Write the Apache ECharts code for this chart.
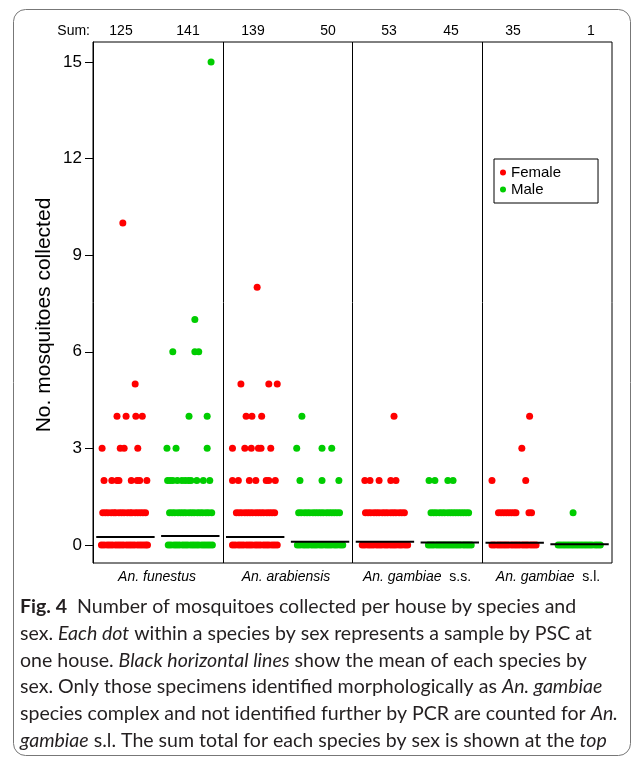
<!DOCTYPE html>
<html><head><meta charset="utf-8">
<script src="https://cdn.jsdelivr.net/npm/echarts@6/dist/echarts.min.js"></script>
<style>html,body{margin:0;padding:0;background:#fff}#c{width:632px;height:757px}</style>
</head><body><div id="c"></div>
<script>
// ---- data ----
const speciesNames = ['An. funestus', 'An. arabiensis', 'An. gambiae', 'An. gambiae'];
const speciesSuffix = ['', '', 's.s.', 's.l.'];
const groupSums = [125, 141, 139, 50, 53, 45, 35, 1];
const groupMeans = [0.25, 0.28, 0.25, 0.10, 0.10, 0.08, 0.07, 0.02];
const yTicks = [0, 3, 6, 9, 12, 15];
// each row: [mosquitoes collected, jitter offsets of the dots at that count...]
const funestusFemale = [
  [10, -0.04],
  [5, 0.15],
  [4, -0.13, 0.01, 0.16, 0.26],
  [3, -0.36, -0.08, -0.02, 0.19],
  [2, -0.33, -0.21, -0.13, -0.10, 0.09, 0.18, 0.22, 0.33],
  [1, -0.35, -0.31, -0.27, -0.22, -0.18, -0.15, -0.10, -0.06, -0.02, 0.03, 0.07, 0.10, 0.15, 0.19, 0.23, 0.27, 0.31],
  [0, -0.37, -0.33, -0.28, -0.24, -0.20, -0.15, -0.11, -0.07, -0.03, 0.02, 0.06, 0.10, 0.14, 0.19, 0.23, 0.27, 0.31, 0.34]
];
const funestusMale = [
  [15, 0.32],
  [7, 0.07],
  [6, -0.27, 0.07, 0.13],
  [4, -0.02, 0.26],
  [3, -0.36, -0.22, 0.26],
  [2, -0.35, -0.31, -0.27, -0.20, -0.13, -0.08, -0.03, 0.01, 0.10, 0.20, 0.30],
  [1, -0.32, -0.28, -0.24, -0.19, -0.15, -0.11, -0.07, -0.02, 0.02, 0.06, 0.11, 0.15, 0.19, 0.24, 0.28, 0.33],
  [0, -0.34, -0.30, -0.25, -0.21, -0.17, -0.12, -0.08, -0.04, 0.01, 0.05, 0.09, 0.13, 0.18, 0.22, 0.26, 0.30, 0.34]
];
const arabiensisFemale = [
  [8, 0.03],
  [5, -0.22, 0.21, 0.34],
  [4, -0.14, -0.05, 0.10],
  [3, -0.35, -0.16, -0.06, 0.05, 0.09, 0.24],
  [2, -0.35, -0.26, -0.09, 0.01, 0.17, 0.21, 0.31],
  [1, -0.29, -0.25, -0.21, -0.16, -0.12, -0.08, -0.04, 0.01, 0.05, 0.09, 0.13, 0.18, 0.22, 0.26, 0.30],
  [0, -0.35, -0.31, -0.26, -0.22, -0.18, -0.13, -0.09, -0.05, 0.00, 0.04, 0.08, 0.13, 0.17, 0.21, 0.26, 0.30, 0.34]
];
const arabiensisMale = [
  [4, -0.28],
  [3, -0.36, 0.03, 0.18],
  [2, -0.31, 0.03, 0.29],
  [1, -0.33, -0.29, -0.24, -0.20, -0.16, -0.11, -0.07, -0.03, 0.01, 0.05, 0.10, 0.14, 0.18, 0.22, 0.26, 0.30],
  [0, -0.35, -0.31, -0.26, -0.22, -0.18, -0.13, -0.09, -0.05, 0.00, 0.04, 0.09, 0.13, 0.17, 0.22, 0.26, 0.31, 0.35]
];
const gambiaeSsFemale = [
  [4, 0.14],
  [2, -0.31, -0.23, -0.09, 0.09, 0.17],
  [1, -0.30, -0.26, -0.22, -0.17, -0.13, -0.09, -0.04, 0.00, 0.04, 0.09, 0.13, 0.17, 0.22, 0.26, 0.30],
  [0, -0.35, -0.31, -0.26, -0.22, -0.18, -0.13, -0.09, -0.05, 0.00, 0.04, 0.09, 0.13, 0.17, 0.22, 0.26, 0.31, 0.35]
];
const gambiaeSsMale = [
  [2, -0.32, -0.23, -0.03, 0.05],
  [1, -0.29, -0.25, -0.21, -0.16, -0.12, -0.08, -0.03, 0.01, 0.05, 0.09, 0.13, 0.17, 0.21, 0.25, 0.29],
  [0, -0.33, -0.29, -0.25, -0.20, -0.16, -0.12, -0.08, -0.04, 0.00, 0.04, 0.08, 0.12, 0.16, 0.21, 0.25, 0.29, 0.33]
];
const gambiaeSlFemale = [
  [4, 0.23],
  [3, 0.11],
  [2, -0.35, 0.17],
  [1, -0.25, -0.21, -0.17, -0.13, -0.09, -0.05, -0.01, 0.02, 0.22, 0.26],
  [0, -0.35, -0.31, -0.26, -0.22, -0.18, -0.14, -0.10, -0.05, -0.01, 0.03, 0.07, 0.12, 0.16, 0.20, 0.25, 0.29, 0.33]
];
const gambiaeSlMale = [
  [1, -0.10],
  [0, -0.33, -0.29, -0.25, -0.21, -0.17, -0.13, -0.09, -0.05, -0.01, 0.03, 0.07, 0.11, 0.15, 0.19, 0.24, 0.28, 0.32]
];
const captionLines = [
  '{b|Fig. 4}  Number of mosquitoes collected per house by species and',
  'sex. {i|Each dot} within a species by sex represents a sample by PSC at',
  'one house. {i|Black horizontal lines} show the mean of each species by',
  'sex. Only those specimens identified morphologically as {i|An. gambiae}',
  'species complex and not identified further by PCR are counted for {i|An.}',
  '{i|gambiae} s.l. The sum total for each species by sex is shown at the {i|top}'
];

// ---- build ----
function build(rows, g) {
  const pts = [];
  rows.forEach(r => { for (let k = 1; k < r.length; k++) pts.push([g + r[k], r[0]]); });
  return pts;
}
const femaleData = [].concat(build(funestusFemale, 1), build(arabiensisFemale, 3), build(gambiaeSsFemale, 5), build(gambiaeSlFemale, 7));
const maleData = [].concat(build(funestusMale, 2), build(arabiensisMale, 4), build(gambiaeSsMale, 6), build(gambiaeSlMale, 8));

const AX = 'Liberation Sans';
const CAP = 'Lato';

// caption font size fitted to the line widths of the reference
const lineEnds = [587, 580, 577, 621, 625, 620];
const cv = document.createElement('canvas').getContext('2d');
cv.font = '100px ' + CAP;
let ratioSum = 0;
captionLines.forEach((l, i) => {
  const plain = l.replace(/\{[bi]\|([^}]*)\}/g, '$1');
  ratioSum += (lineEnds[i] - 20) / cv.measureText(plain).width * 100;
});
const capSize = Math.max(14, Math.min(22, ratioSum / captionLines.length));

const chart = echarts.init(document.getElementById('c'));
const graphics = [];
graphics.push({ type: 'rect', shape: { x: 13.5, y: 9.5, width: 617, height: 746, r: 12 },
  style: { fill: 'none', stroke: '#777', lineWidth: 1 }, silent: true });
graphics.push({ type: 'text', x: 90, y: 31, style: { text: 'Sum:', font: '14px ' + AX, fill: '#000', align: 'right', verticalAlign: 'middle', textAlign: 'right', textVerticalAlign: 'middle' } });
const sumX = [121, 188, 253, 328, 389, 451, 513, 591];
groupSums.forEach((s, i) => {
  graphics.push({ type: 'text', x: sumX[i], y: 31, style: { text: String(s), font: '14px ' + AX, fill: '#000', align: 'center', verticalAlign: 'middle', textAlign: 'center', textVerticalAlign: 'middle' } });
});
const catX = [157, 286, 417, 548];
speciesNames.forEach((n, i) => {
  const t = '{i|' + n + '}' + (speciesSuffix[i] ? '  ' + speciesSuffix[i] : '');
  graphics.push({ type: 'text', x: catX[i], y: 577, style: { text: t, fontSize: 14, fontFamily: AX, fill: '#000', align: 'center', verticalAlign: 'middle', textAlign: 'center', textVerticalAlign: 'middle',
    rich: { i: { fontStyle: 'italic', fontSize: 14, fontFamily: AX, fill: '#000' } } } });
});
graphics.push({ type: 'text', x: 44, y: 315, rotation: Math.PI / 2, style: { text: 'No. mosquitoes collected', font: '21px ' + AX, fill: '#000', align: 'center', verticalAlign: 'middle', textAlign: 'center', textVerticalAlign: 'middle' } });
captionLines.forEach((l, i) => {
  graphics.push({ type: 'text', x: 20, y: 607 + i * 26.7, style: { text: l, fontSize: capSize, fontFamily: CAP, fill: '#231f20', align: 'left', verticalAlign: 'middle', textAlign: 'left', textVerticalAlign: 'middle',
    rich: {
      b: { fontWeight: 'bold', fontSize: capSize, fontFamily: CAP, fill: '#231f20' },
      i: { fontStyle: 'italic', fontSize: capSize, fontFamily: CAP, fill: '#231f20' }
    } } });
});

chart.setOption({
  animation: false,
  backgroundColor: '#fff',
  grid: { left: 93, top: 42, width: 519, height: 521, show: true, borderColor: '#000', borderWidth: 1, backgroundColor: 'transparent' },
  xAxis: { type: 'value', min: 0.5, max: 8.5, show: false },
  yAxis: {
    type: 'value', min: -0.56, max: 15.62,
    axisLine: { show: true, lineStyle: { color: '#000', width: 1 } },
    axisTick: { show: true, length: 8, customValues: yTicks, lineStyle: { color: '#000', width: 1 } },
    axisLabel: { customValues: yTicks, fontSize: 17, fontFamily: AX, color: '#000', margin: 11 },
    splitLine: { show: false }
  },
  legend: {
    data: ['Female', 'Male'], orient: 'vertical', left: 494, top: 159,
    icon: 'circle', itemWidth: 6, itemHeight: 6, itemGap: 2,
    borderColor: '#000', borderWidth: 1, borderRadius: 0, padding: [6, 37, 6, 6],
    textStyle: { fontSize: 15, fontFamily: AX, color: '#000', lineHeight: 14 },
    selectedMode: false
  },
  graphic: graphics,
  series: [
    { name: 'Female', type: 'scatter', data: femaleData, symbol: 'circle', symbolSize: 7, itemStyle: { color: '#FF0000', opacity: 1 },
      markLine: { silent: true, symbol: ['none', 'none'], label: { show: false }, lineStyle: { color: '#000', width: 1, type: 'solid' },
        data: [{ xAxis: 2.5 }, { xAxis: 4.5 }, { xAxis: 6.5 }] } },
    { name: 'Male', type: 'scatter', data: maleData, symbol: 'circle', symbolSize: 7, itemStyle: { color: '#00CD00', opacity: 1 } },
    { name: 'Mean', type: 'custom', z: 10, data: groupMeans.map((m, i) => [i + 1, m]),
      renderItem: (params, api) => {
        const g = api.value(0), m = api.value(1);
        const p1 = api.coord([g - 0.45, m]), p2 = api.coord([g + 0.45, m]);
        return { type: 'line', shape: { x1: p1[0], y1: p1[1], x2: p2[0], y2: p2[1] }, style: { stroke: '#000', lineWidth: 2 } };
      } }
  ]
});
</script></body></html>
